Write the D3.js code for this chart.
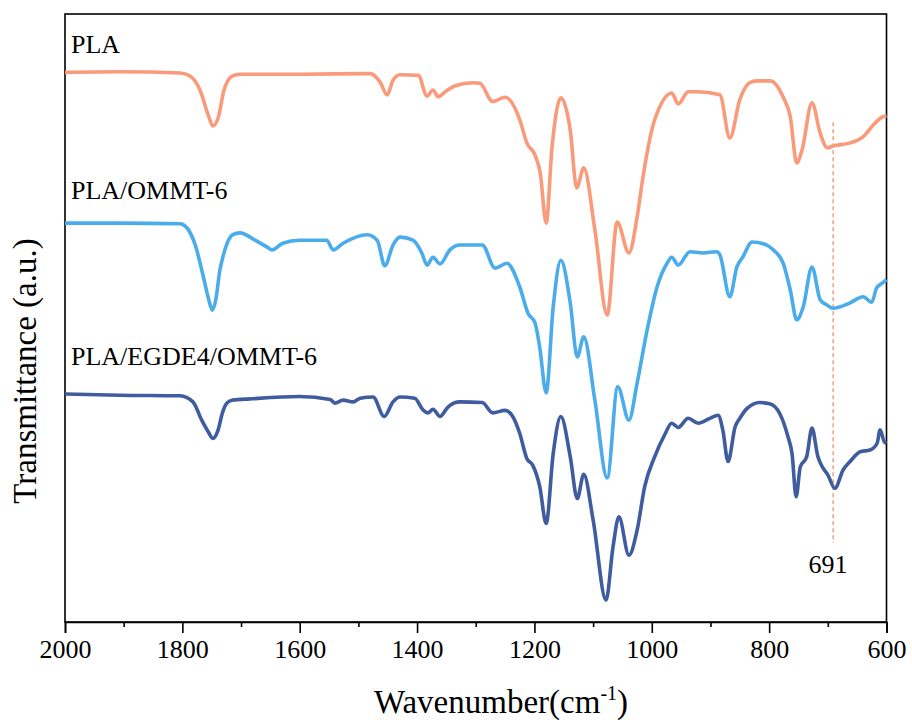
<!DOCTYPE html>
<html>
<head>
<meta charset="utf-8">
<script src="https://cdn.jsdelivr.net/npm/d3@7"></script>
<style>
  body { margin: 0; background: #fff; }
  svg text { font-family: "Liberation Serif", "Times New Roman", serif; fill: #000; }
</style>
</head>
<body>
<div id="chart"></div>
<script>
// FTIR spectra, wavenumber (cm-1) vs transmittance (a.u.)
var seriesNames = ["PLA", "PLA/OMMT-6", "PLA/EGDE4/OMMT-6"];
var seriesColors = ["#f99b7b", "#4aacea", "#3f5c9e"];

var plaWave = [2000,1906,1804,1787,1770,1756,1748,1739,1729,1715,1702,1600,1480,1463,1451,1441,1429,1398,1383,1373,1364,1352,1335,1305,1293,1271,1250,1225,1213,1199,1190,1180,1170,1155,1139,1128,1116,1097,1076,1059,1039,1025,1015,1000,983,966,955,938,923,884,867,850,833,821,798,776,764,753,744,727,713,701,691,662,640,623,606,600];
var plaT = [90.4,90.5,90.3,89.8,87.5,83.4,81.6,82.9,87.5,89.8,90.1,90.1,90.2,88.8,86.7,89.1,90.0,89.9,86.5,87.5,86.4,87.2,88.2,88.7,88.6,85.6,86.3,82.6,78.8,76.8,73.8,65.6,78.1,86.2,80.9,71.4,74.7,64.5,50.5,65.8,60.7,66.6,73.2,80.9,85.4,87.0,85.2,87.2,87.2,86.7,79.6,85.9,88.7,89.0,89.0,86.3,83.1,75.5,77.6,85.4,80.4,78.0,78.3,78.8,79.8,81.7,83.1,83.2];

var ommtWave = [2000,1906,1804,1792,1778,1765,1755,1749,1743,1736,1731,1714,1702,1676,1656,1647,1629,1600,1554,1543,1526,1485,1468,1455,1441,1429,1407,1392,1383,1373,1361,1344,1327,1289,1267,1247,1225,1211,1199,1191,1180,1168,1155,1139,1127,1116,1097,1076,1058,1039,1025,1008,991,974,966,955,935,913,889,884,867,855,845,829,804,793,776,764,753,742,727,713,701,691,662,640,625,617,606,600];
var ommtT = [65.6,65.6,65.5,64.8,62.0,57.1,53.0,51.3,53.0,57.9,60.0,63.7,64.0,62.8,61.7,61.2,62.3,62.8,62.8,61.2,62.3,63.7,62.8,58.6,62.0,63.3,62.8,60.7,58.7,60.0,58.9,61.2,62.0,62.0,58.2,59.0,55.1,50.8,49.2,45.2,37.7,51.8,59.5,52.5,43.6,46.9,36.5,23.7,38.7,33.2,39.3,48.0,55.1,59.0,60.0,58.7,60.9,60.7,60.9,60.4,53.5,58.4,60.0,62.5,62.0,61.2,59.0,54.6,49.7,51.8,58.4,53.0,52.1,51.6,52.5,53.5,52.6,54.9,55.8,56.3];

var egdeWave = [2000,1906,1804,1782,1767,1756,1748,1739,1732,1724,1714,1685,1600,1548,1540,1526,1509,1497,1475,1456,1441,1429,1404,1390,1381,1373,1361,1347,1327,1289,1271,1250,1237,1225,1213,1203,1191,1180,1168,1155,1139,1127,1116,1100,1078,1066,1056,1039,1025,1012,995,978,966,955,938,921,901,887,879,870,858,850,838,816,799,782,768,761,754,747,736,727,717,708,700,688,674,662,645,628,616,611,604,600];
var egdeT = [37.5,37.3,37.2,36.2,33.2,31.3,30.2,31.6,34.3,36.0,36.5,36.7,37.1,36.6,36.0,36.5,36.2,36.8,37.0,33.8,36.2,37.0,36.8,34.9,34.4,35.0,33.8,35.4,36.2,36.1,34.4,34.8,33.8,31.0,26.9,25.8,22.3,16.2,27.7,33.8,27.2,20.3,24.3,16.8,3.6,12.4,17.3,11.0,15.1,22.3,27.2,30.8,32.7,32.0,33.5,32.7,33.5,34.0,31.6,26.4,32.1,33.5,35.1,36.1,35.9,34.3,30.5,27.7,20.6,25.5,27.2,31.9,27.2,25.3,24.2,22.0,25.0,26.4,28.0,28.3,29.4,31.6,29.7,29.4];

var xTicks = [2000, 1800, 1600, 1400, 1200, 1000, 800, 600];
var xMinorTicks = [1900, 1700, 1500, 1300, 1100, 900, 700];

// marked band
var markWave = 691;
var markRange = [82.2, 13.0];

var serif = "'Liberation Serif', 'Times New Roman', serif";

// set the dimensions and margins of the graph
var W = 912, H = 720;
var margin = {top: 14, right: 25.5, bottom: 98, left: 65},
    width = W - margin.left - margin.right,
    height = H - margin.top - margin.bottom;

var svg = d3.select("#chart")
  .append("svg")
    .attr("width", W)
    .attr("height", H)
  .append("g")
    .attr("transform", "translate(" + margin.left + "," + margin.top + ")");

var x = d3.scaleLinear().domain([2000, 600]).range([0, width]);
var y = d3.scaleLinear().domain([0, 100]).range([height, 0]);

// frame
svg.append("rect")
  .attr("x", 0).attr("y", 0)
  .attr("width", width).attr("height", height)
  .attr("fill", "none")
  .attr("stroke", "#000")
  .attr("stroke-width", 1.6);

// bottom axis, major + minor ticks
var xAxis = svg.append("g")
  .attr("transform", "translate(0," + height + ")")
  .call(d3.axisBottom(x).tickValues(xTicks).tickSize(11).tickPadding(7).tickFormat(d3.format("d")));
xAxis.attr("font-family", null).attr("font-size", null);
xAxis.select(".domain").attr("stroke-width", 1.6);
xAxis.selectAll(".tick line").attr("stroke-width", 1.6);
xAxis.selectAll(".tick text")
  .style("font-family", serif)
  .style("font-size", "26px");

svg.append("g")
  .attr("transform", "translate(0," + height + ")")
  .call(d3.axisBottom(x).tickValues(xMinorTicks).tickSize(5).tickFormat(""))
  .call(function(g) { g.select(".domain").remove(); })
  .selectAll(".tick line").attr("stroke-width", 1.6);

// dashed marker at 691
svg.append("line")
  .attr("x1", x(markWave)).attr("x2", x(markWave))
  .attr("y1", y(markRange[0])).attr("y2", y(markRange[1]))
  .attr("stroke", "#e8704f")
  .attr("stroke-width", 1)
  .attr("stroke-dasharray", "4,3");

svg.append("text")
  .attr("x", x(markWave) - 5)
  .attr("y", 558.5)
  .attr("text-anchor", "middle")
  .style("font-family", serif)
  .style("font-size", "26px")
  .text(markWave);

// spectra
var series = [
  {wave: plaWave, t: plaT},
  {wave: ommtWave, t: ommtT},
  {wave: egdeWave, t: egdeT}
];

var line = d3.line()
  .x(function(d) { return x(d[0]); })
  .y(function(d) { return y(d[1]); })
  .curve(d3.curveMonotoneX);

series.forEach(function(s, i) {
  svg.append("path")
    .datum(d3.zip(s.wave, s.t))
    .attr("fill", "none")
    .attr("stroke", seriesColors[i])
    .attr("stroke-width", 3.6)
    .attr("stroke-linejoin", "round")
    .attr("d", line);
});

// series labels
var labelY = [38.5, 185, 350.5];
svg.selectAll(".slabel")
  .data(seriesNames)
  .enter()
  .append("text")
    .attr("class", "slabel")
    .attr("x", 6)
    .attr("y", function(d, i) { return labelY[i]; })
    .style("font-family", serif)
    .style("font-size", "26px")
    .text(function(d) { return d; });

// axis titles
var xt = svg.append("text")
  .attr("x", 436)
  .attr("y", 699)
  .attr("text-anchor", "middle")
  .style("font-family", serif)
  .style("font-size", "33px");
xt.append("tspan").text("Wavenumber(cm");
xt.append("tspan").style("font-size", "20px").attr("dy", -13).text("-1");
xt.append("tspan").attr("dy", 13).text(")");

svg.append("text")
  .attr("transform", "translate(-29," + 357 + ") rotate(-90)")
  .attr("text-anchor", "middle")
  .style("font-family", serif)
  .style("font-size", "33px")
  .text("Transmittance (a.u.)");
</script>
</body>
</html>
